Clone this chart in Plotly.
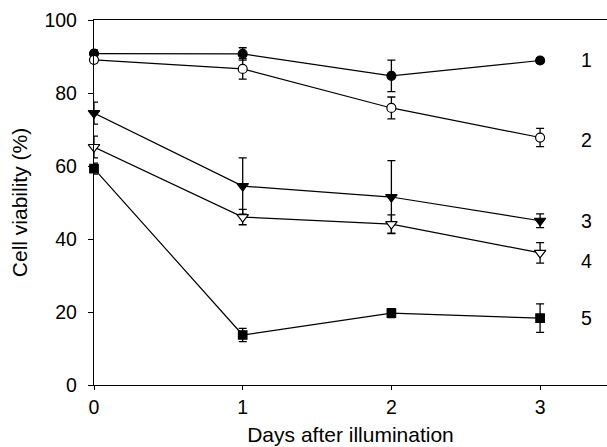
import plotly.graph_objects as go

days = [0, 1, 2, 3]
s1 = [90.8, 90.7, 84.7, 88.9]
e1 = [1.0, 1.7, 4.3, 0.8]
s2 = [89.1, 86.6, 75.9, 67.8]
e2 = [0.8, 2.8, 3.0, 2.5]
s3 = [74.5, 54.5, 51.5, 45.0]
e3 = [3.0, 7.7, 10.0, 1.9]
s4 = [65.2, 46.0, 44.1, 36.2]
e4 = [3.0, 2.1, 2.5, 2.8]
s5 = [59.3, 13.7, 19.7, 18.3]
e5 = [1.5, 1.8, 1.2, 3.9]

series_labels = ["1", "2", "3", "4", "5"]
label_y = [89.0, 67.0, 45.0, 34.0, 18.4]
label_x = 3.31

y_ticks = [0, 20, 40, 60, 80, 100]
x_ticks = [0, 1, 2, 3]

styles = [
    dict(symbol="circle", color="black", size=9),
    dict(symbol="circle", color="white", size=9),
    dict(symbol="triangle-down", color="black", size=10),
    dict(symbol="triangle-down", color="white", size=10),
    dict(symbol="square", color="black", size=8.5),
]

fig = go.Figure()
for vals, errs, st in zip([s1, s2, s3, s4, s5], [e1, e2, e3, e4, e5], styles):
    fig.add_trace(go.Scatter(
        x=days, y=vals, mode="lines+markers",
        line=dict(color="black", width=1.2),
        marker=dict(symbol=st["symbol"], size=st["size"], color=st["color"],
                    line=dict(color="black", width=1.2)),
        error_y=dict(type="data", array=errs, visible=True, color="black",
                     thickness=1.3, width=4),
        cliponaxis=False, showlegend=False,
    ))

for lab, ly in zip(series_labels, label_y):
    fig.add_annotation(x=label_x, y=ly, text=lab, showarrow=False,
                       font=dict(size=19.5, color="black"), xanchor="center", yanchor="middle")

fig.update_layout(
    width=607, height=447,
    margin=dict(l=94, r=0, t=20, b=62),
    plot_bgcolor="white", paper_bgcolor="white",
    font=dict(family="Liberation Sans, Arial, sans-serif", size=19.5, color="black"),
)
fig.update_xaxes(
    range=[0, 3.45], tickvals=x_ticks, ticktext=[str(v) for v in x_ticks],
    showline=True, linecolor="black", linewidth=1.3, mirror=True,
    ticks="outside", ticklen=4, tickcolor="black", showgrid=False, zeroline=False,
    tickfont=dict(size=19.5),
    title=dict(text="Days after illumination", font=dict(size=21), standoff=10),
)
fig.update_yaxes(
    range=[0, 100], tickvals=y_ticks, ticktext=[str(v) for v in y_ticks],
    showline=True, linecolor="black", linewidth=1.3,
    ticks="outside", ticklen=5, tickcolor="black", showgrid=False, zeroline=False,
    tickfont=dict(size=19.5), ticklabelstandoff=7,
    title=dict(text="Cell viability (%)", font=dict(size=21), standoff=11),
)
fig.write_html("out.html")
